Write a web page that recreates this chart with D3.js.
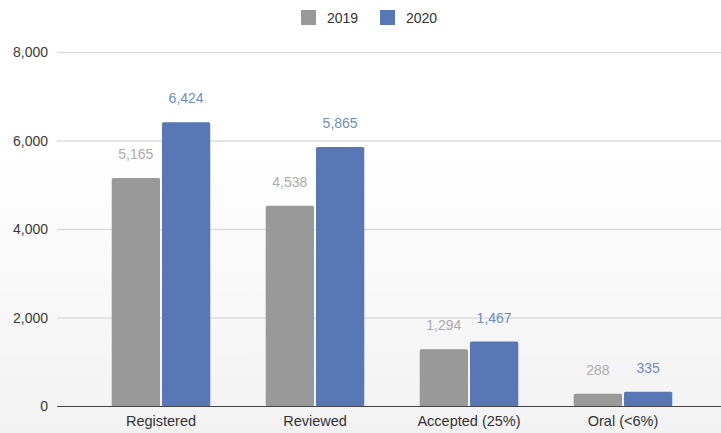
<!DOCTYPE html>
<html>
<head>
<meta charset="utf-8">
<script src="https://cdn.jsdelivr.net/npm/d3@7"></script>
<style>
  html, body { margin: 0; padding: 0; background: #fff; }
  svg { display: block; font-family: "Liberation Sans", Arial, sans-serif; }
</style>
</head>
<body>
<div id="chart"></div>
<script>
// categories + series
const categories = ["Registered", "Reviewed", "Accepted (25%)", "Oral (<6%)"];
const seriesNames = ["2019", "2020"];
const values2019 = [5165, 4538, 1294, 288];
const values2020 = [6424, 5865, 1467, 335];
const yTicks = [0, 2000, 4000, 6000, 8000];

const colors = { "2019": "#999999", "2020": "#5877b4" };
const labelColors = { "2019": "#ababab", "2020": "#6f8cc4" };

const width = 721, height = 433;

const svg = d3.select("#chart").append("svg")
    .attr("width", width).attr("height", height);

// faint grey wash in the lower half, like the screenshot
const defs = svg.append("defs");
const grad = defs.append("linearGradient").attr("id", "bg")
    .attr("x1", 0).attr("y1", 0).attr("x2", 0).attr("y2", 1);
grad.append("stop").attr("offset", "0%").attr("stop-color", "#ffffff");
grad.append("stop").attr("offset", "35%").attr("stop-color", "#ffffff");
grad.append("stop").attr("offset", "100%").attr("stop-color", "#f2f2f2");
svg.append("rect").attr("width", width).attr("height", height).attr("fill", "url(#bg)");

const x0 = d3.scaleBand().domain(categories).range([84, 700]).paddingInner(0.36).paddingOuter(0.18);
const x1 = d3.scaleBand().domain(seriesNames).range([0, x0.bandwidth()]).paddingInner(0.04);
const y = d3.scaleLinear().domain([0, 8000]).range([406.5, 52.5]);

// gridlines
svg.append("g").selectAll("line").data(yTicks.filter(t => t > 0)).join("line")
    .attr("x1", 57).attr("x2", width)
    .attr("y1", d => y(d)).attr("y2", d => y(d))
    .attr("stroke", "#dcdcdc").attr("stroke-width", 1.5);

// y axis labels
const yAxis = svg.append("g").attr("transform", "translate(57,0)")
    .call(d3.axisLeft(y).tickValues(yTicks).tickFormat(d3.format(",")).tickSize(0).tickPadding(9));
yAxis.select(".domain").remove();
yAxis.selectAll("text").style("font-size", "14px").style("fill", "#3a3a3a")
    .style("font-family", "Liberation Sans, Arial, sans-serif");

// bars
const rows = categories.map((c, i) => ({ cat: c, vals: [
    { s: "2019", v: values2019[i] }, { s: "2020", v: values2020[i] }] }));

const groups = svg.append("g").selectAll("g").data(rows).join("g")
    .attr("transform", d => `translate(${x0(d.cat)},0)`);

groups.selectAll("rect").data(d => d.vals).join("rect")
    .attr("x", d => x1(d.s)).attr("width", x1.bandwidth())
    .attr("y", d => y(d.v)).attr("height", d => y(0) - y(d.v))
    .attr("rx", 1.5)
    .attr("fill", d => colors[d.s]);

groups.selectAll("text").data(d => d.vals).join("text")
    .attr("x", d => x1(d.s) + x1.bandwidth() / 2)
    .attr("y", d => y(d.v) - 19)
    .attr("text-anchor", "middle")
    .style("font-size", "14px")
    .style("fill", d => labelColors[d.s])
    .text(d => d3.format(",")(d.v));

// baseline
svg.append("line").attr("x1", 57).attr("x2", width)
    .attr("y1", y(0)).attr("y2", y(0))
    .attr("stroke", "#444").attr("stroke-width", 1.2);

// x labels
const xAxis = svg.append("g").attr("transform", `translate(0,${y(0)})`)
    .call(d3.axisBottom(x0).tickSize(0).tickPadding(9));
xAxis.select(".domain").remove();
xAxis.selectAll("text").style("font-size", "14.5px").style("fill", "#333")
    .style("font-family", "Liberation Sans, Arial, sans-serif");

// legend
const legend = svg.append("g");
const legendX = [301, 380];
seriesNames.forEach((s, i) => {
    legend.append("rect").attr("x", legendX[i]).attr("y", 10)
        .attr("width", 15).attr("height", 15).attr("fill", colors[s]);
    legend.append("text").attr("x", legendX[i] + 26).attr("y", 23)
        .style("font-size", "14px").style("fill", "#333").text(s);
});
</script>
</body>
</html>
